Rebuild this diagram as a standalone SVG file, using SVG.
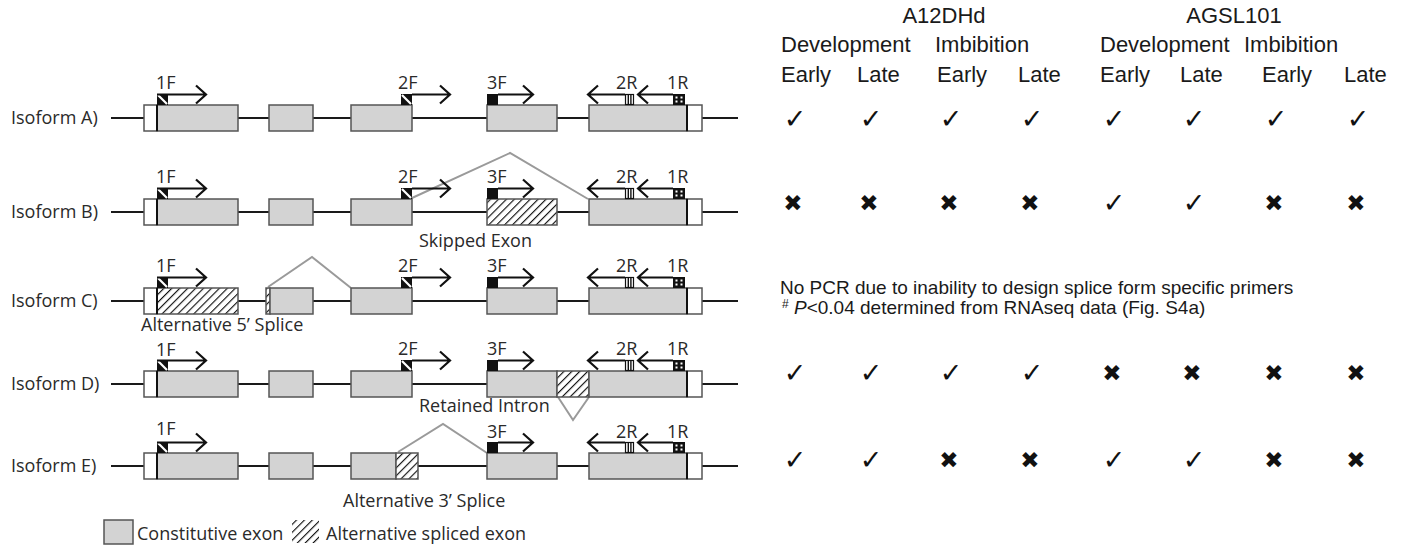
<svg xmlns="http://www.w3.org/2000/svg" width="1408" height="545" viewBox="0 0 1408 545">
<style>
.ln{stroke:#1a1a1a;stroke-width:2;fill:none}
.ex{fill:#d3d3d3;stroke:#555;stroke-width:1.5}
.utr{fill:#fff;stroke:#555;stroke-width:1.5}
.ht{fill:url(#hatch);stroke:#555;stroke-width:1.5}
.bd{stroke:#111;stroke-width:2}
.sp{stroke:#9a9a9a;stroke-width:2;fill:none}
.ar{stroke:#111;stroke-width:2.2;fill:none}
.t{font-family:"Open Sans","DejaVu Sans",sans-serif;font-size:18px;fill:#2a2a2a}
.lg{font-family:"Open Sans","DejaVu Sans",sans-serif;font-size:18px;fill:#2a2a2a}
.h{font-family:"Liberation Sans",Arial,sans-serif;font-size:22px;fill:#1a1a1a}
.n{font-family:"Liberation Sans",Arial,sans-serif;font-size:19px;fill:#1a1a1a}
.ck{font-family:"DejaVu Sans",sans-serif;font-size:27px;fill:#111;text-anchor:middle}
.x{font-family:"DejaVu Sans",sans-serif;font-size:23px;fill:#111;text-anchor:middle}
</style>
<defs>
<pattern id="hatch" patternUnits="userSpaceOnUse" width="5.6" height="5.6" patternTransform="rotate(45)">
<rect width="5.6" height="5.6" fill="#fff"/>
<line x1="0" y1="0" x2="0" y2="5.6" stroke="#111" stroke-width="2.3"/>
</pattern>
<g id="pr1F"><rect x="157" y="0" width="11" height="11" fill="#111"/><line x1="158" y1="1" x2="167" y2="10" stroke="#fff" stroke-width="2.2"/><path class="ar" d="M157 0.5 H206 M196 -8.5 L206 0.5 L196 9.5"/></g>
<g id="pr2F"><rect x="401" y="0" width="11" height="11" fill="#111"/><line x1="402" y1="1" x2="411" y2="10" stroke="#fff" stroke-width="2.2"/><path class="ar" d="M412 0.5 H450 M440 -8.5 L450 0.5 L440 9.5"/></g>
<g id="pr3F"><rect x="487" y="0" width="11" height="11" fill="#111"/><path class="ar" d="M498 0.5 H533 M523 -8.5 L533 0.5 L523 9.5"/></g>
<g id="pr2R"><path class="ar" d="M588 0.5 H625 M598 -8.5 L588 0.5 L598 9.5"/><rect x="625.5" y="0.5" width="8" height="10" fill="#fff" stroke="#111" stroke-width="1.2"/><line x1="628.3" y1="0" x2="628.3" y2="11" stroke="#111" stroke-width="1.4"/><line x1="630.9" y1="0" x2="630.9" y2="11" stroke="#111" stroke-width="1.4"/></g>
<g id="pr1R"><path class="ar" d="M638 0.5 H673 M648 -8.5 L638 0.5 L648 9.5"/><rect x="673" y="0" width="12" height="11" fill="#111"/><rect x="675.5" y="2.5" width="2" height="2" fill="#fff"/><rect x="680.5" y="2.5" width="2" height="2" fill="#fff"/><rect x="675.5" y="6.5" width="2" height="2" fill="#fff"/><rect x="680.5" y="6.5" width="2" height="2" fill="#fff"/></g>
</defs>
<rect width="1408" height="545" fill="#fff"/>

<g id="connectors">
<polyline class="sp" points="412,198 510,153 588,199"/>
<polyline class="sp" points="268,287 312,257 351,288"/>
<polyline class="sp" points="558,397 573,420 589,397"/>
<polyline class="sp" points="398,452 443,424 487,453"/>
</g>

<g id="isoformA">
<text class="t" x="11" y="124">Isoform A)</text>
<line class="ln" x1="111" y1="118" x2="738" y2="118"/>
<rect class="utr" x="144" y="105" width="13" height="26"/>
<rect class="ex" x="157" y="105" width="81" height="26"/>
<rect class="ex" x="269" y="105" width="44" height="26"/>
<rect class="ex" x="351" y="105" width="61" height="26"/>
<rect class="ex" x="487" y="105" width="70" height="26"/>
<rect class="ex" x="589" y="105" width="98" height="26"/>
<rect class="utr" x="687" y="105" width="15" height="26"/>
<line class="bd" x1="157" y1="105" x2="157" y2="131"/>
<line class="bd" x1="687" y1="105" x2="687" y2="131"/>
<use href="#pr1F" y="94"/><use href="#pr2F" y="94"/><use href="#pr3F" y="94"/><use href="#pr2R" y="94"/><use href="#pr1R" y="94"/>
<text class="t" x="156" y="89">1F</text><text class="t" x="398" y="89">2F</text><text class="t" x="487" y="89">3F</text><text class="t" x="616" y="89">2R</text><text class="t" x="667" y="89">1R</text>
</g>

<g id="isoformB">
<text class="t" x="11" y="218">Isoform B)</text>
<line class="ln" x1="111" y1="212" x2="738" y2="212"/>
<rect class="utr" x="144" y="199" width="13" height="26"/>
<rect class="ex" x="157" y="199" width="81" height="26"/>
<rect class="ex" x="269" y="199" width="44" height="26"/>
<rect class="ex" x="351" y="199" width="61" height="26"/>
<rect class="ht" x="487" y="199" width="70" height="26"/>
<rect class="ex" x="589" y="199" width="98" height="26"/>
<rect class="utr" x="687" y="199" width="15" height="26"/>
<line class="bd" x1="157" y1="199" x2="157" y2="225"/>
<line class="bd" x1="687" y1="199" x2="687" y2="225"/>
<use href="#pr1F" y="188"/><use href="#pr2F" y="188"/><use href="#pr3F" y="188"/><use href="#pr2R" y="188"/><use href="#pr1R" y="188"/>
<text class="t" x="156" y="183">1F</text><text class="t" x="398" y="183">2F</text><text class="t" x="487" y="183">3F</text><text class="t" x="616" y="183">2R</text><text class="t" x="667" y="183">1R</text>
<text class="t" x="419" y="247">Skipped Exon</text>
</g>

<g id="isoformC">
<text class="t" x="11" y="307">Isoform C)</text>
<line class="ln" x1="111" y1="301" x2="738" y2="301"/>
<rect class="utr" x="144" y="288" width="13" height="26"/>
<rect class="ht" x="157" y="288" width="81" height="26"/>
<rect class="ht" x="266" y="288" width="4" height="26"/>
<rect class="ex" x="270" y="288" width="43" height="26"/>
<rect class="ex" x="351" y="288" width="61" height="26"/>
<rect class="ex" x="487" y="288" width="70" height="26"/>
<rect class="ex" x="589" y="288" width="98" height="26"/>
<rect class="utr" x="687" y="288" width="15" height="26"/>
<line class="bd" x1="157" y1="288" x2="157" y2="314"/>
<line class="bd" x1="687" y1="288" x2="687" y2="314"/>
<use href="#pr1F" y="277"/><use href="#pr2F" y="277"/><use href="#pr3F" y="277"/><use href="#pr2R" y="277"/><use href="#pr1R" y="277"/>
<text class="t" x="156" y="272">1F</text><text class="t" x="398" y="272">2F</text><text class="t" x="487" y="272">3F</text><text class="t" x="616" y="272">2R</text><text class="t" x="667" y="272">1R</text>
<text class="t" x="141" y="331">Alternative 5’ Splice</text>
</g>

<g id="isoformD">
<text class="t" x="11" y="390">Isoform D)</text>
<line class="ln" x1="111" y1="384" x2="738" y2="384"/>
<rect class="utr" x="144" y="371" width="13" height="26"/>
<rect class="ex" x="157" y="371" width="81" height="26"/>
<rect class="ex" x="269" y="371" width="44" height="26"/>
<rect class="ex" x="351" y="371" width="61" height="26"/>
<rect class="ex" x="487" y="371" width="70" height="26"/>
<rect class="ht" x="557" y="371" width="32" height="26"/>
<rect class="ex" x="589" y="371" width="98" height="26"/>
<rect class="utr" x="687" y="371" width="15" height="26"/>
<line class="bd" x1="157" y1="371" x2="157" y2="397"/>
<line class="bd" x1="687" y1="371" x2="687" y2="397"/>
<use href="#pr1F" y="360"/><use href="#pr2F" y="360"/><use href="#pr3F" y="360"/><use href="#pr2R" y="360"/><use href="#pr1R" y="360"/>
<text class="t" x="156" y="356">1F</text><text class="t" x="398" y="355">2F</text><text class="t" x="487" y="355">3F</text><text class="t" x="616" y="355">2R</text><text class="t" x="667" y="355">1R</text>
<text class="t" x="419" y="412">Retained Intron</text>
</g>

<g id="isoformE">
<text class="t" x="11" y="472">Isoform E)</text>
<line class="ln" x1="111" y1="466" x2="738" y2="466"/>
<rect class="utr" x="144" y="453" width="13" height="26"/>
<rect class="ex" x="157" y="453" width="81" height="26"/>
<rect class="ex" x="269" y="453" width="44" height="26"/>
<rect class="ex" x="351" y="453" width="45" height="26"/>
<rect class="ht" x="396" y="453" width="22" height="26"/>
<rect class="ex" x="487" y="453" width="70" height="26"/>
<rect class="ex" x="589" y="453" width="98" height="26"/>
<rect class="utr" x="687" y="453" width="15" height="26"/>
<line class="bd" x1="157" y1="453" x2="157" y2="479"/>
<line class="bd" x1="687" y1="453" x2="687" y2="479"/>
<use href="#pr1F" y="442"/><use href="#pr3F" y="442"/><use href="#pr2R" y="442"/><use href="#pr1R" y="442"/>
<text class="t" x="156" y="435">1F</text><text class="t" x="487" y="438">3F</text><text class="t" x="616" y="438">2R</text><text class="t" x="667" y="438">1R</text>
<text class="t" x="343" y="507">Alternative 3’ Splice</text>
</g>

<g id="legend">
<rect class="ex" x="104" y="520" width="29" height="24"/>
<text class="lg" x="137" y="540">Constitutive exon</text>
<rect x="292" y="520" width="27" height="23" fill="url(#hatch)"/>
<text class="lg" x="326" y="540">Alternative spliced exon</text>
</g>

<g id="tableHeader">
<text class="h" x="944" y="23" text-anchor="middle">A12DHd</text>
<text class="h" x="1234" y="23" text-anchor="middle">AGSL101</text>
<text class="h" x="781" y="52">Development</text>
<text class="h" x="935" y="52">Imbibition</text>
<text class="h" x="1100" y="52">Development</text>
<text class="h" x="1244" y="52">Imbibition</text>
<text class="h" x="781" y="82">Early</text>
<text class="h" x="857" y="82">Late</text>
<text class="h" x="937" y="82">Early</text>
<text class="h" x="1018" y="82">Late</text>
<text class="h" x="1100" y="82">Early</text>
<text class="h" x="1180" y="82">Late</text>
<text class="h" x="1262" y="82">Early</text>
<text class="h" x="1344" y="82">Late</text>
</g>

<g id="rowA">
<text class="ck" x="795" y="128">✓</text><text class="ck" x="871" y="128">✓</text><text class="ck" x="951" y="128">✓</text><text class="ck" x="1032" y="128">✓</text><text class="ck" x="1114" y="128">✓</text><text class="ck" x="1194" y="128">✓</text><text class="ck" x="1276" y="128">✓</text><text class="ck" x="1358" y="128">✓</text>
</g>
<g id="rowB">
<text class="x" x="793" y="211">✖</text><text class="x" x="869" y="211">✖</text><text class="x" x="949" y="211">✖</text><text class="x" x="1030" y="211">✖</text><text class="ck" x="1114" y="212">✓</text><text class="ck" x="1194" y="212">✓</text><text class="x" x="1274" y="211">✖</text><text class="x" x="1356" y="211">✖</text>
</g>
<g id="rowC">
<text class="n" x="780" y="294">No PCR due to inability to design splice form specific primers</text>
<text class="n" x="782" y="313.5"><tspan font-size="12" dy="-6">#</tspan><tspan dy="6" font-style="italic"> P</tspan>&lt;0.04 determined from RNAseq data (Fig. S4a)</text>
</g>
<g id="rowD">
<text class="ck" x="795" y="382">✓</text><text class="ck" x="871" y="382">✓</text><text class="ck" x="951" y="382">✓</text><text class="ck" x="1032" y="382">✓</text><text class="x" x="1112" y="381">✖</text><text class="x" x="1192" y="381">✖</text><text class="x" x="1274" y="381">✖</text><text class="x" x="1356" y="381">✖</text>
</g>
<g id="rowE">
<text class="ck" x="795" y="469">✓</text><text class="ck" x="871" y="469">✓</text><text class="x" x="949" y="468">✖</text><text class="x" x="1030" y="468">✖</text><text class="ck" x="1114" y="469">✓</text><text class="ck" x="1194" y="469">✓</text><text class="x" x="1274" y="468">✖</text><text class="x" x="1356" y="468">✖</text>
</g>
</svg>
